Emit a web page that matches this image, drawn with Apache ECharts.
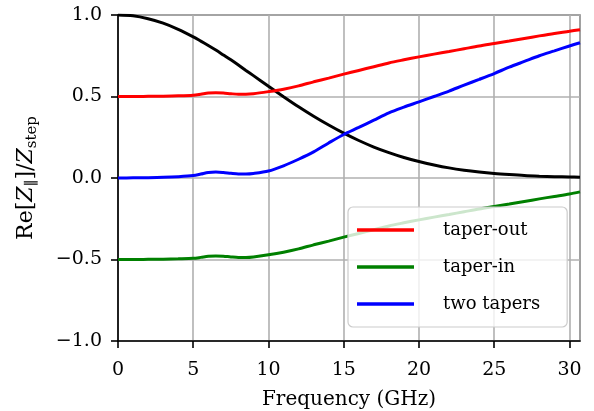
<!DOCTYPE html>
<html>
<head>
<meta charset="utf-8">
<script src="https://cdn.jsdelivr.net/npm/echarts@6/dist/echarts.min.js"></script>
<style>html,body{margin:0;padding:0;background:#fff}#c{width:594px;height:411px}</style>
</head>
<body>
<div id="c"></div>
<script>
const freq = [0,1,2,3,4,5,5.5,6,6.5,7,7.5,8,8.5,9,10,11,12,13,14,15,16,17,18,19,20,21,22,23,24,25,26,27,28,29,30,30.7];
const stepRef = [1.0,0.995,0.977,0.95,0.912,0.866,0.84,0.813,0.785,0.755,0.725,0.693,0.66,0.628,0.563,0.499,0.437,0.379,0.325,0.275,0.23,0.19,0.156,0.126,0.101,0.08,0.062,0.048,0.037,0.028,0.021,0.015,0.011,0.008,0.006,0.005];
const taperOut = [0.5,0.5,0.501,0.502,0.504,0.508,0.514,0.521,0.523,0.521,0.517,0.514,0.514,0.517,0.53,0.545,0.565,0.59,0.613,0.637,0.66,0.683,0.706,0.725,0.743,0.76,0.776,0.793,0.81,0.825,0.84,0.856,0.872,0.887,0.9,0.91];
const taperIn = [-0.5,-0.5,-0.499,-0.498,-0.496,-0.493,-0.487,-0.48,-0.478,-0.48,-0.484,-0.487,-0.487,-0.484,-0.471,-0.455,-0.435,-0.41,-0.387,-0.363,-0.34,-0.317,-0.294,-0.275,-0.257,-0.24,-0.224,-0.207,-0.19,-0.175,-0.16,-0.144,-0.128,-0.113,-0.098,-0.085];
const twoTapers = [0,0.001,0.002,0.004,0.008,0.015,0.024,0.034,0.037,0.034,0.029,0.025,0.025,0.028,0.043,0.075,0.115,0.16,0.215,0.267,0.31,0.355,0.4,0.435,0.467,0.5,0.533,0.57,0.605,0.641,0.68,0.715,0.75,0.78,0.81,0.83];
const seriesNames = ['taper-out','taper-in','two tapers'];
const xTicks = [0,5,10,15,20,25,30];

const font = 'DejaVu Serif';
const pair = (ys) => freq.map((x,i)=>[x, ys[i]]);
const chart = echarts.init(document.getElementById('c'), null, {renderer:'canvas'});
const mk = (name, ys, color) => ({
  name, type:'line', data: pair(ys), showSymbol:false, symbol:'none', smooth:0.3,
  lineStyle:{color, width:3}, itemStyle:{color}, z:3
});
chart.setOption({
  animation:false,
  backgroundColor:'#fff',
  grid:{left:118, right:14, top:15, bottom:70, outerBoundsMode:'none', containLabel:false,
    show:true, borderColor:'#000', borderWidth:1.2, backgroundColor:'transparent'},
  xAxis:{type:'value', min:0, max:30.7, interval:5,
    name:'Frequency (GHz)', nameLocation:'middle', nameGap:49,
    nameTextStyle:{fontFamily:font, fontSize:20, color:'#000'},
    axisLine:{show:true, onZero:false, lineStyle:{color:'#000', width:1.6}},
    axisTick:{show:true, length:7, lineStyle:{color:'#000', width:1.6}},
    axisLabel:{fontFamily:font, fontSize:19, color:'#000', margin:20, showMaxLabel:false,
      formatter:(v)=> xTicks.includes(v) ? String(v) : ''},
    splitLine:{show:true, lineStyle:{color:'#b0b0b0', width:1.6}}
  },
  yAxis:{type:'value', min:-1, max:1, interval:0.5,
    name:'{n|Re[}{i|Z}{s|∥}{n|]/}{i|Z}{s|step}', nameLocation:'middle', nameGap:78,
    nameTextStyle:{fontFamily:font, fontSize:22, color:'#000',
      rich:{
        n:{fontFamily:font, fontSize:22, color:'#000', lineHeight:28, verticalAlign:'middle'},
        i:{fontFamily:font, fontSize:22, fontStyle:'italic', color:'#000', lineHeight:28, verticalAlign:'middle'},
        s:{fontFamily:font, fontSize:15, color:'#000', lineHeight:28, verticalAlign:'bottom'}
      }},
    axisLine:{show:true, lineStyle:{color:'#000', width:1.6}},
    axisTick:{show:true, length:7, lineStyle:{color:'#000', width:1.6}},
    axisLabel:{fontFamily:font, fontSize:19, color:'#000', margin:16,
      formatter:(v)=> v.toFixed(1).replace('-', '\u2212')},
    splitLine:{show:true, lineStyle:{color:'#b0b0b0', width:1.6}}
  },
  legend:{show:true, data:seriesNames, orient:'vertical', left:348, top:207,
    padding:[12,27,12,9], itemGap:15, itemWidth:57, itemHeight:3.5, icon:'rect',
    backgroundColor:'rgba(255,255,255,0.8)', borderColor:'#cccccc', borderWidth:1.2, borderRadius:5,
    textStyle:{fontFamily:font, fontSize:18, lineHeight:22, color:'#000', padding:[0,0,0,24]}
  },
  series:[
    {name:'step', type:'line', data: pair(stepRef), showSymbol:false, symbol:'none', smooth:0.3,
      lineStyle:{color:'#000', width:3}, itemStyle:{color:'#000'}, z:3},
    mk('taper-out', taperOut, '#ff0000'),
    mk('taper-in', taperIn, '#008000'),
    mk('two tapers', twoTapers, '#0000ff')
  ]
});
</script>
</body>
</html>
